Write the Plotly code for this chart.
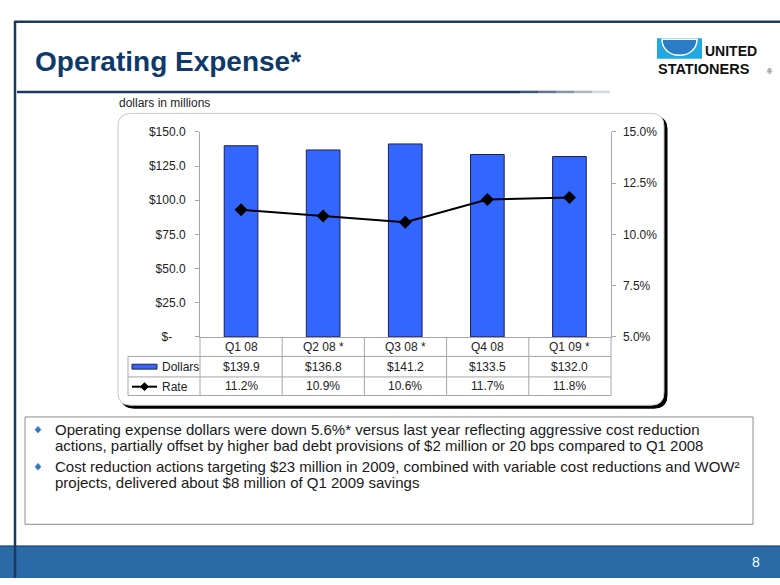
import plotly.graph_objects as go

# ---------------- data ----------------
categories = ["Q1 08", "Q2 08 *", "Q3 08 *", "Q4 08", "Q1 09 *"]
dollars = [139.9, 136.8, 141.2, 133.5, 132.0]
rate = [11.2, 10.9, 10.6, 11.7, 11.8]
left_ticks = [0, 25, 50, 75, 100, 125, 150]
left_ticktext = ["$-\u00a0\u00a0\u00a0\u00a0", "$25.0", "$50.0", "$75.0", "$100.0", "$125.0", "$150.0"]
right_ticks = [5, 7.5, 10, 12.5, 15]
right_ticktext = ["5.0%", "7.5%", "10.0%", "12.5%", "15.0%"]
title_text = "Operating Expense*"
unit_text = "dollars in millions"
bullet_lines = [
    ["Operating expense dollars were down 5.6%* versus last year reflecting aggressive cost reduction",
     "actions, partially offset by higher bad debt provisions of $2 million or 20 bps compared to Q1 2008"],
    ["Cost reduction actions targeting $23 million in 2009, combined with variable cost reductions and WOW\u00b2",
     "projects, delivered about $8 million of Q1 2009 savings"],
]
page_number = "8"

# ---------------- helpers ----------------
W, H = 780, 585
FONT = "Arial, Liberation Sans, sans-serif"


def X(px):
    return px / W


def Y(py):
    return 1 - py / H


def rrect_path(x0, y0, x1, y1, r):
    pts = [
        ("M", [(x0 + r, y0)]),
        ("L", [(x1 - r, y0)]),
        ("Q", [(x1, y0), (x1, y0 + r)]),
        ("L", [(x1, y1 - r)]),
        ("Q", [(x1, y1), (x1 - r, y1)]),
        ("L", [(x0 + r, y1)]),
        ("Q", [(x0, y1), (x0, y1 - r)]),
        ("L", [(x0, y0 + r)]),
        ("Q", [(x0, y0), (x0 + r, y0)]),
    ]
    s = ""
    for cmd, ps in pts:
        s += cmd + " " + " ".join(f"{X(a):.5f},{Y(b):.5f}" for a, b in ps) + " "
    return s + "Z"


shapes = []
annotations = []


def line(x0, y0, x1, y1, color, width=1):
    shapes.append(dict(type="line", xref="paper", yref="paper", x0=X(x0), y0=Y(y0),
                       x1=X(x1), y1=Y(y1), line=dict(color=color, width=width), layer="above"))


def rect(x0, y0, x1, y1, fill, lc=None, lw=0, layer="below"):
    shapes.append(dict(type="rect", xref="paper", yref="paper", x0=X(x0), y0=Y(y0),
                       x1=X(x1), y1=Y(y1), fillcolor=fill,
                       line=dict(color=lc or fill, width=lw), layer=layer))


def text(x, y, s, size=12, color="#222222", xanchor="left", bold=False, xref="paper"):
    annotations.append(dict(xref=xref, yref="paper", x=(X(x) if xref == "paper" else x), y=Y(y),
                            text=(f"<b>{s}</b>" if bold else s), showarrow=False,
                            xanchor=xanchor, yanchor="middle",
                            font=dict(family=FONT, size=size, color=color)))


# ---------------- slide furniture ----------------
NAVY = "#1B3A5E"
# footer
rect(0, 552, 780, 585, "#2A6AA6")
line(0, 552.5, 780, 552.5, "#1D4E80", 1.5)
# frame
line(15, 15, 780, 15, NAVY, 2.5)
line(15, 14, 15, 585, NAVY, 2.5)
# title rule with fade
line(17, 87, 520, 87, NAVY, 2.5)
fade = ["#3B5677", "#5E7590", "#8497AB", "#AAB7C5", "#D0D8E0"]
for i, c in enumerate(fade):
    line(520 + i * 18, 87, 520 + (i + 1) * 18, 87, c, 2.5)

# logo
rect(657, 32, 702, 53, "#22A8E0", layer="above")
shapes.append(dict(type="path", xref="paper", yref="paper", layer="above",
                   path=f"M {X(662)},{Y(33)} C {X(662)},{Y(55)} {X(697)},{Y(55)} {X(697)},{Y(33)} Z",
                   fillcolor="#2A7CC4", line=dict(color="#FFFFFF", width=1.5)))
text(703, 45.5, "UNITED", size=14, color="#111111", bold=True)
text(656, 63.5, "STATIONERS", size=14.5, color="#111111", bold=True)
text(765, 66, "®", size=7, color="#333333")

# chart box (shadow + white rounded rect)
shapes.append(dict(type="path", xref="paper", yref="paper", layer="below",
                   path=rrect_path(121, 112, 667, 411, 13), fillcolor="#000000",
                   line=dict(color="#000000", width=1)))
shapes.append(dict(type="path", xref="paper", yref="paper", layer="below",
                   path=rrect_path(118, 109, 664, 408, 13), fillcolor="#FFFFFF",
                   line=dict(color="#C8C8C8", width=1)))

# bullet box
rect(25, 420, 753, 530, "#FFFFFF", "#8C8C8C", 1)

# title and unit
text(33, 56, title_text, size=28, color="#0E3A6B", bold=True)
text(117, 98, unit_text, size=12, color="#222222")

# ---------------- data table under chart ----------------
GRID = "#A6A6A6"
col_edges = [200 + 82.2 * i for i in range(6)]
for cx in col_edges:
    line(cx, 338, cx, 398, GRID, 1)
for ry in (358, 379, 398):
    line(128, ry, col_edges[-1], ry, GRID, 1)
line(128, 358, 128, 398, GRID, 1)

for c in categories:
    text(c, 348, c, size=12, color="#222222", xanchor="center", xref="x")
for c, v in zip(categories, dollars):
    text(c, 368.5, f"${v:.1f}", size=12, color="#222222", xanchor="center", xref="x")
for c, v in zip(categories, rate):
    text(c, 388.5, f"{v:.1f}%", size=12, color="#222222", xanchor="center", xref="x")

# legend keys
rect(132, 366, 157, 371, "#3366FF", "#1F1F4F", 1, layer="above")
text(160, 368.5, "Dollars", size=12)
line(132, 389, 157, 389, "#000000", 2)
shapes.append(dict(type="path", xref="paper", yref="paper", layer="above",
                   path=f"M {X(144.5)},{Y(385)} L {X(148.5)},{Y(389)} L {X(144.5)},{Y(393)} L {X(140.5)},{Y(389)} Z",
                   fillcolor="#000000", line=dict(color="#000000", width=1)))
text(160, 389, "Rate", size=12)

# ---------------- bullets ----------------
line_y = [[433, 449], [471, 487]]
for bl, ys in zip(bullet_lines, line_y):
    by = ys[0]
    shapes.append(dict(type="path", xref="paper", yref="paper", layer="above",
                       path=f"M {X(38)},{Y(by-3.5)} L {X(41)},{Y(by)} L {X(38)},{Y(by+3.5)} L {X(35)},{Y(by)} Z",
                       fillcolor="#2E78C0", line=dict(color="#2E78C0", width=0.5)))
    for s, yy in zip(bl, ys):
        text(53, yy, s, size=15, color="#1A1A1A")

text(756, 569, page_number, size=14, color="#FFFFFF", xanchor="center")

# ---------------- traces ----------------
fig = go.Figure()
fig.add_trace(go.Bar(x=categories, y=dollars, name="Dollars", width=0.41,
                     marker=dict(color="#3366FF", line=dict(color="#1F1F4F", width=1))))
fig.add_trace(go.Scatter(x=categories, y=rate, name="Rate", yaxis="y2", mode="lines+markers",
                         line=dict(color="#000000", width=2),
                         marker=dict(symbol="diamond", size=10, color="#000000")))

axis_common = dict(showgrid=False, zeroline=False, showline=True, linecolor=GRID, linewidth=1,
                   ticks="outside", ticklen=4, tickcolor=GRID,
                   tickfont=dict(family=FONT, size=12, color="#222222"))

fig.update_layout(
    width=W, height=H, autosize=False,
    margin=dict(l=0, r=0, t=0, b=0),
    paper_bgcolor="#FFFFFF", plot_bgcolor="rgba(0,0,0,0)",
    showlegend=False,
    xaxis=dict(domain=[X(200), X(610.5)], type="category", showticklabels=False,
               showgrid=False, zeroline=False, showline=True, linecolor=GRID, ticks=""),
    yaxis=dict(domain=[Y(338), Y(128)], range=[0, 150], tickvals=left_ticks,
               ticktext=left_ticktext, ticklabelstandoff=7, **axis_common),
    yaxis2=dict(overlaying="y", side="right", range=[5, 15], tickvals=right_ticks,
                ticktext=right_ticktext, ticklabelstandoff=5, **axis_common),
    shapes=shapes,
    annotations=annotations,
    font=dict(family=FONT),
)

fig.write_html("out.html",
               config={"displayModeBar": False},
               post_script="document.body.style.margin='0';document.body.style.overflow='hidden';")
